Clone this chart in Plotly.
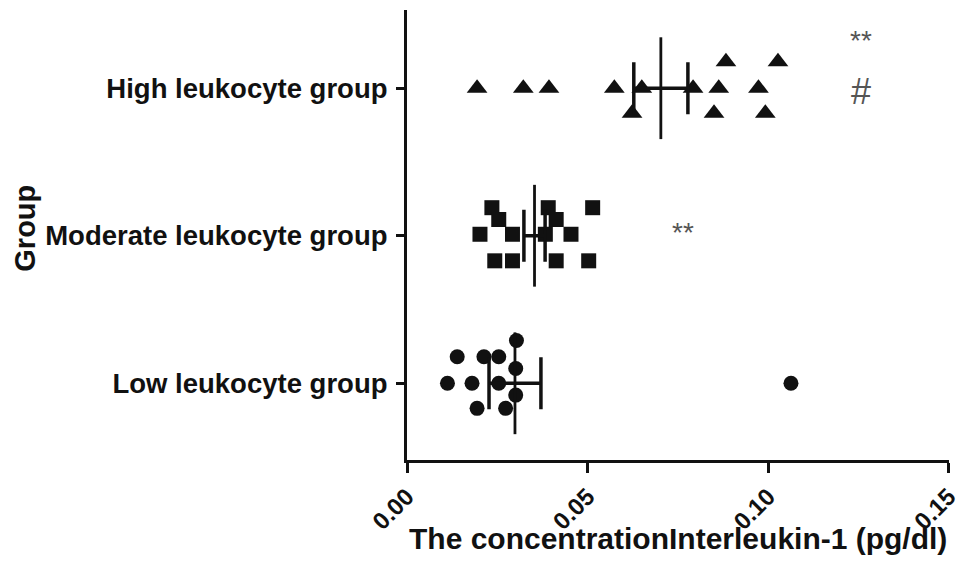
import numpy as np
import plotly.graph_objects as go

# ---- data ----
groups = ["Low leukocyte group", "Moderate leukocyte group", "High leukocyte group"]

low_values = [0.0139, 0.0213, 0.0254, 0.0303, 0.0112, 0.0180, 0.0254, 0.0301, 0.0301, 0.0194, 0.0273, 0.1063]
moderate_values = [0.0235, 0.0254, 0.0202, 0.0292, 0.0243, 0.0292, 0.0391, 0.0413, 0.0383, 0.0454, 0.0413, 0.0514, 0.0503]
high_values = [0.0194, 0.0322, 0.0393, 0.0574, 0.0650, 0.0623, 0.0792, 0.0883, 0.0863, 0.0850, 0.1027, 0.0973, 0.0992]

# vertical scatter offsets of points inside each group (as drawn)
low_jitter = [0.18, 0.18, 0.18, 0.29, 0, 0, 0, 0.10, -0.08, -0.17, -0.17, 0]
moderate_jitter = [0.19, 0.11, 0.01, 0.01, -0.17, -0.17, 0.19, 0.11, 0.01, 0.01, -0.17, 0.19, -0.17]
high_jitter = [0, 0, 0, 0, 0, -0.17, 0, 0.18, 0, -0.17, 0.18, 0, -0.17]

x_ticks = [0.00, 0.05, 0.10, 0.15]
x_tick_labels = ["0.00", "0.05", "0.10", "0.15"]

significance = [("**", 0.1256, 2.32), ("#", 0.1256, 1.98), ("**", 0.0765, 1.02)]

symbols = ["circle", "square", "triangle-up"]
marker_sizes = [15, 15, 18]
all_values = [low_values, moderate_values, high_values]
all_jitter = [low_jitter, moderate_jitter, high_jitter]

FONT = "Liberation Sans, Arial, sans-serif"

fig = go.Figure()

for i, (vals, jit, sym, ms) in enumerate(zip(all_values, all_jitter, symbols, marker_sizes)):
    v = np.array(vals)
    ypos = i + np.array(jit)
    fig.add_trace(go.Scatter(
        x=v, y=ypos, mode="markers",
        marker=dict(symbol=sym, size=ms, color="#111111", line=dict(width=0)),
        showlegend=False, hoverinfo="x", cliponaxis=False))

for i, vals in enumerate(all_values):
    v = np.array(vals)
    mean = v.mean()
    sem = v.std(ddof=1) / np.sqrt(len(v))
    # mean line
    fig.add_trace(go.Scatter(
        x=[mean, mean], y=[i - 0.345, i + 0.345], mode="lines",
        line=dict(color="#111111", width=2.8), showlegend=False, hoverinfo="skip"))
    # SEM bar
    fig.add_trace(go.Scatter(
        x=[mean], y=[i], mode="markers",
        marker=dict(size=1, color="rgba(0,0,0,0)"),
        error_x=dict(type="constant", value=sem, color="#111111", thickness=3.5, width=26),
        showlegend=False, hoverinfo="skip"))

annotations = []
for txt, xv, yv in significance:
    annotations.append(dict(
        x=xv, y=yv, xref="x", yref="y", text=txt, showarrow=False,
        font=dict(family=FONT, size=36 if txt == "#" else 28, color="#555555"),
        xanchor="center", yanchor="middle"))

annotations.append(dict(
    x=0.5, y=-0.175, xref="paper", yref="paper",
    text="The concentrationInterleukin-1 (pg/dl)", showarrow=False,
    font=dict(family=FONT, size=30, color="#111111", weight="bold"),
    xanchor="center", yanchor="middle"))
annotations.append(dict(
    x=-0.705, y=0.516, xref="paper", yref="paper", text="Group", showarrow=False,
    textangle=-90, font=dict(family=FONT, size=29, color="#111111", weight="bold"),
    xanchor="center", yanchor="middle"))

fig.update_layout(
    width=963, height=563,
    margin=dict(l=407, r=14, t=10, b=103, autoexpand=False),
    paper_bgcolor="white", plot_bgcolor="white",
    annotations=annotations,
    xaxis=dict(
        range=[0, 0.15005], tickvals=x_ticks, ticktext=x_tick_labels, automargin=False,
        tickangle=-45, ticks="outside", ticklen=10, tickwidth=3, tickcolor="#111111",
        ticklabeloverflow="allow",
        showline=True, linewidth=3, linecolor="#111111", showgrid=False, zeroline=False,
        tickfont=dict(family=FONT, size=24, color="#111111", weight="bold")),
    yaxis=dict(
        range=[-0.52, 2.53], tickvals=[0, 1, 2], ticktext=groups, automargin=False,
        ticks="outside", ticklen=8, tickwidth=3, tickcolor="#111111",
        showline=True, linewidth=3, linecolor="#111111", showgrid=False, zeroline=False,
        ticklabelstandoff=3,
        tickfont=dict(family=FONT, size=27.5, color="#111111", weight="bold")),
)

fig.write_html("out.html", config={"displayModeBar": False},
               post_script="document.body.style.margin='0';document.body.style.overflow='hidden';")
